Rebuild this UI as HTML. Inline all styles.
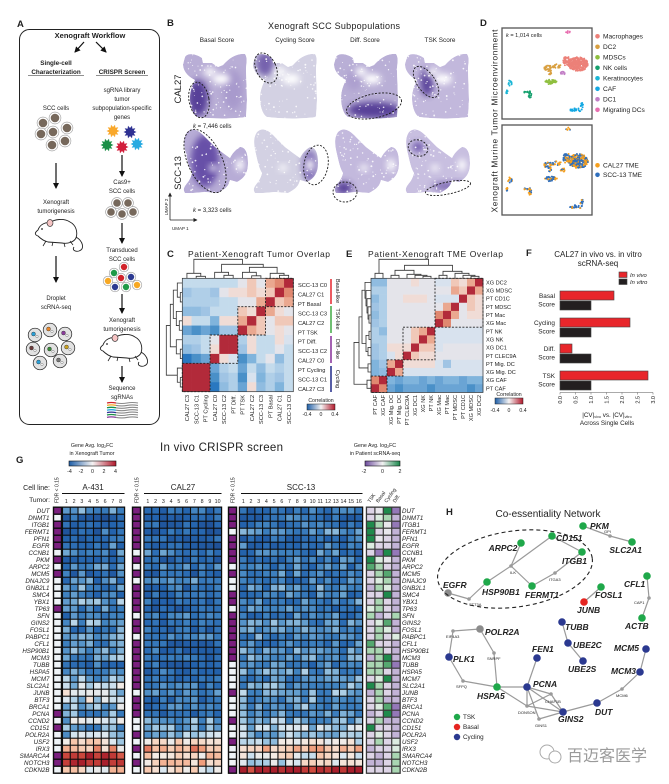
<!DOCTYPE html>
<html><head><meta charset="utf-8">
<style>
html,body{margin:0;padding:0;background:#fff;width:669px;height:784px;overflow:hidden}
svg{display:block}
text{font-family:"Liberation Sans","Noto Sans CJK SC",sans-serif;fill:#222}
.b{font-weight:bold}.i{font-style:italic}.bi{font-weight:bold;font-style:italic}
</style></head><body>
<svg id="s" width="669" height="784" viewBox="0 0 669 784" xmlns="http://www.w3.org/2000/svg">
<defs id="defs">
<linearGradient id="gC" x1="0" x2="1" y1="0" y2="0"><stop offset="0" stop-color="#1f5fa8"/><stop offset="0.5" stop-color="#f5f3f3"/><stop offset="1" stop-color="#b2182b"/></linearGradient>
<linearGradient id="gP" x1="0" x2="1" y1="0" y2="0"><stop offset="0" stop-color="#6e4c9e"/><stop offset="0.5" stop-color="#f2f2f2"/><stop offset="1" stop-color="#18874a"/></linearGradient>
<filter id="bl" x="-60%" y="-60%" width="220%" height="220%"><feGaussianBlur stdDeviation="3.2"/></filter>
<marker id="ah" markerWidth="6" markerHeight="6" refX="5" refY="3" orient="auto" markerUnits="userSpaceOnUse"><path d="M0,0 L6,3 L0,6 Z" fill="#111"/></marker>
<marker id="ah2" markerWidth="4" markerHeight="4" refX="3.5" refY="2" orient="auto" markerUnits="userSpaceOnUse"><path d="M0,0 L4,2 L0,4 Z" fill="#222"/></marker>
</defs>
<rect width="669" height="784" fill="#fff"/>
<g id="shapes"></g>
<g id="fg" fill="none">
<!-- Panel A -->
<rect x="19.5" y="29.5" width="140" height="395" rx="10" stroke="#222" stroke-width="1"/>
<g stroke="#111" stroke-width="1.2">
<line x1="84" y1="42" x2="75" y2="52" marker-end="url(#ah)"/>
<line x1="96" y1="42" x2="106" y2="52" marker-end="url(#ah)"/>
<line x1="56" y1="163" x2="56" y2="188" marker-end="url(#ah)"/>
<line x1="56" y1="256" x2="56" y2="282" marker-end="url(#ah)"/>
<line x1="122" y1="155" x2="122" y2="176" marker-end="url(#ah)"/>
<line x1="122" y1="223" x2="122" y2="243" marker-end="url(#ah)"/>
<line x1="122" y1="294" x2="122" y2="313" marker-end="url(#ah)"/>
<line x1="122" y1="366" x2="122" y2="382" marker-end="url(#ah)"/>
</g>
<line x1="28" y1="75.5" x2="84" y2="75.5" stroke="#222" stroke-width="0.6"/>
<line x1="96" y1="75.5" x2="148" y2="75.5" stroke="#222" stroke-width="0.6"/>
<!-- Panel B dashed ellipses -->
<g stroke="#1a1a1a" stroke-width="0.9" stroke-dasharray="2,1.5">
<ellipse cx="199" cy="100" rx="10" ry="18" transform="rotate(-10 199 100)"/>
<ellipse cx="266" cy="68" rx="10" ry="16" transform="rotate(-25 266 68)"/>
<ellipse cx="374" cy="106" rx="28" ry="12" transform="rotate(-12 374 106)"/>
<ellipse cx="426" cy="82" rx="9" ry="18" transform="rotate(-35 426 82)"/>
<ellipse cx="205" cy="161" rx="17" ry="34" transform="rotate(-25 205 161)"/>
<ellipse cx="316" cy="165" rx="12" ry="20" transform="rotate(10 316 165)"/>
<ellipse cx="345" cy="192" rx="12" ry="10"/>
<ellipse cx="418" cy="148" rx="10" ry="8" transform="rotate(20 418 148)"/>
<ellipse cx="448" cy="188" rx="23" ry="6" transform="rotate(-12 448 188)"/>
</g>
<g stroke="#222" stroke-width="0.8">
<line x1="170" y1="220" x2="170" y2="193" marker-end="url(#ah2)"/>
<line x1="170" y1="220" x2="197" y2="220" marker-end="url(#ah2)"/>
</g>
<!-- Panel D boxes -->
<rect x="502" y="28" width="90" height="91" stroke="#555" stroke-width="1.3"/>
<rect x="502" y="125" width="90" height="90" stroke="#555" stroke-width="1.3"/>
<!-- Panel C frame -->
<rect x="182.3" y="278.3" width="111" height="113.4" stroke="#333" stroke-width="0.7"/>
<g stroke="#222" stroke-width="0.9" stroke-dasharray="2,1.5">
<rect x="265.55" y="278.3" width="27.75" height="28.35"/>
<rect x="237.8" y="306.65" width="27.75" height="28.35"/>
<rect x="210.05" y="335" width="27.75" height="28.35"/>
<rect x="182.3" y="363.35" width="27.75" height="28.35"/>
</g>
<rect x="307" y="404" width="28" height="6" fill="url(#gC)" stroke="#222" stroke-width="0.5"/>
<g stroke-width="1.6">
<line x1="331" y1="279" x2="331" y2="304" stroke="#e8333a"/>
<line x1="331" y1="306" x2="331" y2="333" stroke="#4caf50"/>
<line x1="331" y1="336" x2="331" y2="363" stroke="#8e3a9e"/>
<line x1="331" y1="366" x2="331" y2="392" stroke="#2d3590"/>
</g>
<!-- Panel E frame -->
<rect x="371" y="278.3" width="112" height="114.1" stroke="#333" stroke-width="0.7"/>
<g stroke="#222" stroke-width="0.9" stroke-dasharray="2,1.5">
<rect x="435" y="278.3" width="48" height="48.9"/>
<rect x="403" y="327.2" width="32" height="32.6"/>
<rect x="387" y="359.8" width="16" height="16.3"/>
<rect x="371" y="376.1" width="16" height="16.3"/>
</g>
<rect x="495" y="398" width="28" height="6" fill="url(#gC)" stroke="#222" stroke-width="0.5"/>
<!-- Panel F -->
<g stroke="#444" stroke-width="0.6">
<rect x="560" y="291" width="54" height="9" fill="#e8262b"/>
<rect x="560" y="301" width="31" height="9" fill="#231f20"/>
<rect x="560" y="318" width="70" height="9" fill="#e8262b"/>
<rect x="560" y="328" width="31" height="9" fill="#231f20"/>
<rect x="560" y="344" width="12" height="9" fill="#e8262b"/>
<rect x="560" y="354" width="31" height="9" fill="#231f20"/>
<rect x="560" y="371" width="88" height="9" fill="#e8262b"/>
<rect x="560" y="381" width="31" height="9" fill="#231f20"/>
<rect x="619" y="272" width="8" height="5.5" fill="#e8262b"/>
<rect x="619" y="279" width="8" height="5.5" fill="#231f20"/>
</g>
<path d="M560,392.5 H653 M560,392.5v2 M575.5,392.5v2 M591,392.5v2 M606.5,392.5v2 M622,392.5v2 M637.5,392.5v2 M653,392.5v2" stroke="#555" stroke-width="0.5"/>
<!-- Panel G colorbars -->
<rect x="69" y="461" width="47" height="5" fill="url(#gC)" stroke="#111" stroke-width="0.6"/>
<rect x="365" y="461" width="35" height="5" fill="url(#gP)" stroke="#111" stroke-width="0.6"/>
<g stroke="#111" stroke-width="0.9">
<line x1="62" y1="493.5" x2="124.5" y2="493.5"/>
<line x1="144" y1="493.5" x2="221.5" y2="493.5"/>
<line x1="241" y1="493.5" x2="362.5" y2="493.5"/>
</g>
<!-- Panel H ellipse -->
<ellipse cx="515" cy="569" rx="78" ry="38" transform="rotate(-8 515 569)" stroke="#222" stroke-width="1.1" stroke-dasharray="4,3"/>
<circle cx="547" cy="752" r="7" stroke="#aaa" stroke-width="1" fill="#fff"/>
<circle cx="555" cy="757" r="6" stroke="#aaa" stroke-width="1" fill="#fff"/>
</g>

<g id="txt">
<!-- panel letters -->
<g class="b" font-size="9.5">
<text x="17" y="27">A</text><text x="167" y="26">B</text><text x="480" y="26">D</text>
<text x="167" y="257">C</text><text x="346" y="257">E</text><text x="526" y="256">F</text>
<text x="16" y="463">G</text><text x="446" y="515">H</text>
</g>
<!-- Panel A text -->
<text x="90" y="38" class="b" font-size="7.5" text-anchor="middle">Xenograft Workflow</text>
<g class="b" font-size="6.3" text-anchor="middle">
<text x="56" y="65">Single-cell</text><text x="56" y="74">Characterization</text><text x="122" y="74">CRISPR Screen</text>
</g>
<g font-size="6" text-anchor="middle">
<text x="122" y="92">sgRNA library</text><text x="122" y="101">tumor</text><text x="122" y="110">subpopulation-specific</text><text x="122" y="119">genes</text>
<text x="56" y="110">SCC cells</text>
<text x="122" y="184">Cas9+</text><text x="122" y="193">SCC cells</text>
<text x="122" y="252">Transduced</text><text x="122" y="261">SCC cells</text>
<text x="122" y="322">Xenograft</text><text x="122" y="331">tumorigenesis</text>
<text x="122" y="390">Sequence</text><text x="122" y="399">sgRNAs</text>
<text x="56" y="204">Xenograft</text><text x="56" y="213">tumorigenesis</text>
<text x="56" y="300">Droplet</text><text x="56" y="309">scRNA-seq</text>
</g>
<!-- Panel B text -->
<text x="334" y="29" font-size="9" text-anchor="middle" textLength="132">Xenograft SCC Subpopulations</text>
<g font-size="6.4" text-anchor="middle">
<text x="217" y="42">Basal Score</text><text x="295" y="42">Cycling Score</text><text x="365" y="42">Diff. Score</text><text x="440" y="42">TSK Score</text>
</g>
<text x="181" y="89" font-size="9.5" text-anchor="middle" transform="rotate(-90 181 89)">CAL27</text>
<text x="181" y="173" font-size="9.5" text-anchor="middle" transform="rotate(-90 181 173)">SCC-13</text>
<text x="193" y="128" font-size="6"><tspan class="i">k</tspan> = 7,446 cells</text>
<text x="193" y="212" font-size="6"><tspan class="i">k</tspan> = 3,323 cells</text>
<text x="172" y="230" font-size="4.5">UMAP 1</text>
<text x="168" y="207" font-size="4.5" text-anchor="middle" transform="rotate(-90 168 207)">UMAP 2</text>
<!-- Panel D text -->
<text x="497.5" y="121" font-size="8.3" text-anchor="middle" textLength="183" transform="rotate(-90 497.5 121)">Xenograft Murine Tumor Microenvironment</text>
<text x="506" y="37" font-size="5.6"><tspan class="i">k</tspan> = 1,014 cells</text>
<g font-size="6.6">
<text x="603" y="38.5">Macrophages</text><text x="603" y="49">DC2</text><text x="603" y="59.5">MDSCs</text><text x="603" y="70">NK cells</text>
<text x="603" y="80.5">Keratinocytes</text><text x="603" y="91">CAF</text><text x="603" y="101.5">DC1</text><text x="603" y="112">Migrating DCs</text>
<text x="603" y="167.5">CAL27 TME</text><text x="603" y="177">SCC-13 TME</text>
</g>
<!-- Panel C text -->
<text x="188" y="257" font-size="8.5" textLength="142">Patient-Xenograft Tumor Overlap</text>
<g font-size="5.7">
<text x="298" y="287">SCC-13 C0</text><text x="298" y="296.5">CAL27 C1</text><text x="298" y="305.9">PT Basal</text>
<text x="298" y="315.4">SCC-13 C3</text><text x="298" y="324.8">CAL27 C2</text><text x="298" y="334.3">PT TSK</text>
<text x="298" y="343.7">PT Diff.</text><text x="298" y="353.2">SCC-13 C2</text><text x="298" y="362.6">CAL27 C0</text>
<text x="298" y="372.1">PT Cycling</text><text x="298" y="381.5">SCC-13 C1</text><text x="298" y="391">CAL27 C3</text>
</g>
<g font-size="5.7" text-anchor="end">
<text x="189" y="395" transform="rotate(-90 189 395)">CAL27 C3</text>
<text x="198.3" y="395" transform="rotate(-90 198.3 395)">SCC-13 C1</text>
<text x="207.5" y="395" transform="rotate(-90 207.5 395)">PT Cycling</text>
<text x="216.8" y="395" transform="rotate(-90 216.8 395)">CAL27 C0</text>
<text x="226" y="395" transform="rotate(-90 226 395)">SCC-13 C2</text>
<text x="235.3" y="395" transform="rotate(-90 235.3 395)">PT Diff.</text>
<text x="244.5" y="395" transform="rotate(-90 244.5 395)">PT TSK</text>
<text x="253.8" y="395" transform="rotate(-90 253.8 395)">CAL27 C2</text>
<text x="263" y="395" transform="rotate(-90 263 395)">SCC-13 C3</text>
<text x="272.3" y="395" transform="rotate(-90 272.3 395)">PT Basal</text>
<text x="281.5" y="395" transform="rotate(-90 281.5 395)">CAL27 C1</text>
<text x="290.8" y="395" transform="rotate(-90 290.8 395)">SCC-13 C0</text>
</g>
<g font-size="5.6" text-anchor="middle">
<text x="336" y="291" transform="rotate(90 336 291)">Basal-like</text>
<text x="336" y="319" transform="rotate(90 336 319)">TSK-like</text>
<text x="336" y="349" transform="rotate(90 336 349)">Diff.-like</text>
<text x="336" y="379" transform="rotate(90 336 379)">Cycling</text>
</g>
<g font-size="5.2" text-anchor="middle">
<text x="321" y="402">Correlation</text><text x="307" y="416">-0.4</text><text x="321" y="416">0</text><text x="335" y="416">0.4</text>
<text x="509" y="396">Correlation</text><text x="495" y="412">-0.4</text><text x="509" y="412">0</text><text x="523" y="412">0.4</text>
</g>
<!-- Panel E text -->
<text x="368" y="257" font-size="8.5" textLength="135">Patient-Xenograft TME Overlap</text>
<g font-size="5.6">
<text x="486" y="284.4">XG DC2</text><text x="486" y="292.5">XG MDSC</text><text x="486" y="300.7">PT CD1C</text>
<text x="486" y="308.9">PT MDSC</text><text x="486" y="317">PT Mac</text><text x="486" y="325.2">XG Mac</text>
<text x="486" y="333.3">PT NK</text><text x="486" y="341.5">XG NK</text><text x="486" y="349.6">XG DC1</text>
<text x="486" y="357.8">PT CLEC9A</text><text x="486" y="365.9">PT Mig. DC</text><text x="486" y="374.1">XG Mig. DC</text>
<text x="486" y="382.2">XG CAF</text><text x="486" y="390.4">PT CAF</text>
</g>
<g font-size="5.6" text-anchor="end">
<text x="377" y="395" transform="rotate(-90 377 395)">PT CAF</text>
<text x="385" y="395" transform="rotate(-90 385 395)">XG CAF</text>
<text x="393" y="395" transform="rotate(-90 393 395)">XG Mig. DC</text>
<text x="401" y="395" transform="rotate(-90 401 395)">PT Mig. DC</text>
<text x="409" y="395" transform="rotate(-90 409 395)">PT CLEC9A</text>
<text x="417" y="395" transform="rotate(-90 417 395)">XG DC1</text>
<text x="425" y="395" transform="rotate(-90 425 395)">XG NK</text>
<text x="433" y="395" transform="rotate(-90 433 395)">PT NK</text>
<text x="441" y="395" transform="rotate(-90 441 395)">XG Mac</text>
<text x="449" y="395" transform="rotate(-90 449 395)">PT Mac</text>
<text x="457" y="395" transform="rotate(-90 457 395)">PT MDSC</text>
<text x="465" y="395" transform="rotate(-90 465 395)">PT CD1C</text>
<text x="473" y="395" transform="rotate(-90 473 395)">XG MDSC</text>
<text x="481" y="395" transform="rotate(-90 481 395)">XG DC2</text>
</g>
<!-- Panel F text -->
<text x="598" y="257" font-size="8" text-anchor="middle">CAL27 in vivo vs. in vitro</text>
<text x="598" y="266" font-size="8" text-anchor="middle">scRNA-seq</text>
<text x="630" y="277" font-size="5.8" class="i">In vivo</text>
<text x="630" y="284" font-size="5.8" class="i">In vitro</text>
<g font-size="6.4" text-anchor="end">
<text x="555" y="298">Basal</text><text x="555" y="306.5">Score</text>
<text x="555" y="325">Cycling</text><text x="555" y="333.5">Score</text>
<text x="555" y="351">Diff.</text><text x="555" y="359.5">Score</text>
<text x="555" y="378">TSK</text><text x="555" y="386.5">Score</text>
</g>
<g font-size="5.5" text-anchor="end">
<text x="562" y="396" transform="rotate(-90 562 396)">0.0</text>
<text x="577.5" y="396" transform="rotate(-90 577.5 396)">0.5</text>
<text x="593" y="396" transform="rotate(-90 593 396)">1.0</text>
<text x="608.5" y="396" transform="rotate(-90 608.5 396)">1.5</text>
<text x="624" y="396" transform="rotate(-90 624 396)">2.0</text>
<text x="639.5" y="396" transform="rotate(-90 639.5 396)">2.5</text>
<text x="655" y="396" transform="rotate(-90 655 396)">3.0</text>
</g>
<text x="607" y="417" font-size="6.3" text-anchor="middle">|CV|<tspan font-size="3.8" dy="1.2">vivo</tspan><tspan dy="-1.2"> vs. |CV|</tspan><tspan font-size="3.8" dy="1.2">vitro</tspan></text>
<text x="607" y="425" font-size="6.3" text-anchor="middle">Across Single Cells</text>
<!-- Panel G text -->
<text x="160" y="451" font-size="11.5" textLength="123">In vivo CRISPR screen</text>
<g font-size="5.3" text-anchor="middle">
<text x="92" y="447">Gene Avg. log<tspan font-size="3.6" dy="1">2</tspan><tspan dy="-1">FC</tspan></text>
<text x="92" y="455">in Xenograft Tumor</text>
<text x="69.5" y="473">-4</text><text x="81" y="473">-2</text><text x="92.5" y="473">0</text><text x="104" y="473">2</text><text x="115.5" y="473">4</text>
<text x="375" y="447">Gene Avg. log<tspan font-size="3.6" dy="1">2</tspan><tspan dy="-1">FC</tspan></text>
<text x="375" y="455">in Patient scRNA-seq</text>
<text x="364" y="473">-2</text><text x="382.5" y="473">0</text><text x="400" y="473">2</text>
</g>
<text x="50" y="490" font-size="7" text-anchor="end">Cell line:</text>
<text x="50" y="502" font-size="6.7" text-anchor="end">Tumor:</text>
<g font-size="5">
<text x="58.5" y="503" transform="rotate(-90 58.5 503)">FDR &lt; 0.15</text>
<text x="138.5" y="503" transform="rotate(-90 138.5 503)">FDR &lt; 0.15</text>
<text x="234.5" y="503" transform="rotate(-90 234.5 503)">FDR &lt; 0.15</text>
</g>
<g font-size="8" text-anchor="middle">
<text x="93" y="490">A-431</text><text x="183" y="490">CAL27</text><text x="301" y="490">SCC-13</text>
</g>
<g font-size="5.3" text-anchor="middle">
<text x="66.4" y="503">1</text><text x="74.1" y="503">2</text><text x="81.9" y="503">3</text><text x="89.6" y="503">4</text><text x="97.4" y="503">5</text><text x="105.1" y="503">6</text><text x="112.9" y="503">7</text><text x="120.6" y="503">8</text>
<text x="147.9" y="503">1</text><text x="155.6" y="503">2</text><text x="163.4" y="503">3</text><text x="171.1" y="503">4</text><text x="178.9" y="503">5</text><text x="186.6" y="503">6</text><text x="194.4" y="503">7</text><text x="202.1" y="503">8</text><text x="209.9" y="503">9</text><text x="217.6" y="503">10</text>
<text x="243.3" y="503">1</text><text x="251" y="503">2</text><text x="258.7" y="503">3</text><text x="266.4" y="503">4</text><text x="274.1" y="503">5</text><text x="281.8" y="503">6</text><text x="289.5" y="503">7</text><text x="297.2" y="503">8</text><text x="304.9" y="503">9</text><text x="312.6" y="503">10</text><text x="320.3" y="503">11</text><text x="328.1" y="503">12</text><text x="335.8" y="503">13</text><text x="343.5" y="503">14</text><text x="351.2" y="503">15</text><text x="358.9" y="503">16</text>
</g>
<g font-size="5" text-anchor="start">
<text x="370" y="503" transform="rotate(-55 370 503)">TSK</text>
<text x="378.4" y="503" transform="rotate(-55 378.4 503)">Basal</text>
<text x="386.8" y="503" transform="rotate(-55 386.8 503)">Cycling</text>
<text x="395.2" y="503" transform="rotate(-55 395.2 503)">Diff.</text>
</g>
<text class="i" font-size="6.2" text-anchor="end"><tspan x="49.5" y="512.9">DUT</tspan><tspan x="49.5" y="519.9">DNMT1</tspan><tspan x="49.5" y="526.9">ITGB1</tspan><tspan x="49.5" y="533.9">FERMT1</tspan><tspan x="49.5" y="540.9">PFN1</tspan><tspan x="49.5" y="547.9">EGFR</tspan><tspan x="49.5" y="554.9">CCNB1</tspan><tspan x="49.5" y="561.9">PKM</tspan><tspan x="49.5" y="568.9">ARPC2</tspan><tspan x="49.5" y="575.9">MCM5</tspan><tspan x="49.5" y="582.9">DNAJC9</tspan><tspan x="49.5" y="589.9">GNB2L1</tspan><tspan x="49.5" y="596.9">SMC4</tspan><tspan x="49.5" y="603.9">YBX1</tspan><tspan x="49.5" y="610.9">TP63</tspan><tspan x="49.5" y="617.9">SFN</tspan><tspan x="49.5" y="624.9">GINS2</tspan><tspan x="49.5" y="631.9">FOSL1</tspan><tspan x="49.5" y="638.9">PABPC1</tspan><tspan x="49.5" y="645.9">CFL1</tspan><tspan x="49.5" y="652.9">HSP90B1</tspan><tspan x="49.5" y="659.9">MCM3</tspan><tspan x="49.5" y="666.9">TUBB</tspan><tspan x="49.5" y="673.9">HSPA5</tspan><tspan x="49.5" y="680.9">MCM7</tspan><tspan x="49.5" y="687.9">SLC2A1</tspan><tspan x="49.5" y="694.9">JUNB</tspan><tspan x="49.5" y="701.9">BTF3</tspan><tspan x="49.5" y="708.9">BRCA1</tspan><tspan x="49.5" y="715.9">PCNA</tspan><tspan x="49.5" y="722.9">CCND2</tspan><tspan x="49.5" y="729.9">CD151</tspan><tspan x="49.5" y="736.9">POLR2A</tspan><tspan x="49.5" y="743.9">USF2</tspan><tspan x="49.5" y="750.9">IRX3</tspan><tspan x="49.5" y="757.9">SMARCA4</tspan><tspan x="49.5" y="764.9">NOTCH3</tspan><tspan x="49.5" y="771.9">CDKN2B</tspan></text>
<text class="i" font-size="6.2"><tspan x="402" y="512.9">DUT</tspan><tspan x="402" y="519.9">DNMT1</tspan><tspan x="402" y="526.9">ITGB1</tspan><tspan x="402" y="533.9">FERMT1</tspan><tspan x="402" y="540.9">PFN1</tspan><tspan x="402" y="547.9">EGFR</tspan><tspan x="402" y="554.9">CCNB1</tspan><tspan x="402" y="561.9">PKM</tspan><tspan x="402" y="568.9">ARPC2</tspan><tspan x="402" y="575.9">MCM5</tspan><tspan x="402" y="582.9">DNAJC9</tspan><tspan x="402" y="589.9">GNB2L1</tspan><tspan x="402" y="596.9">SMC4</tspan><tspan x="402" y="603.9">YBX1</tspan><tspan x="402" y="610.9">TP63</tspan><tspan x="402" y="617.9">SFN</tspan><tspan x="402" y="624.9">GINS2</tspan><tspan x="402" y="631.9">FOSL1</tspan><tspan x="402" y="638.9">PABPC1</tspan><tspan x="402" y="645.9">CFL1</tspan><tspan x="402" y="652.9">HSP90B1</tspan><tspan x="402" y="659.9">MCM3</tspan><tspan x="402" y="666.9">TUBB</tspan><tspan x="402" y="673.9">HSPA5</tspan><tspan x="402" y="680.9">MCM7</tspan><tspan x="402" y="687.9">SLC2A1</tspan><tspan x="402" y="694.9">JUNB</tspan><tspan x="402" y="701.9">BTF3</tspan><tspan x="402" y="708.9">BRCA1</tspan><tspan x="402" y="715.9">PCNA</tspan><tspan x="402" y="722.9">CCND2</tspan><tspan x="402" y="729.9">CD151</tspan><tspan x="402" y="736.9">POLR2A</tspan><tspan x="402" y="743.9">USF2</tspan><tspan x="402" y="750.9">IRX3</tspan><tspan x="402" y="757.9">SMARCA4</tspan><tspan x="402" y="764.9">NOTCH3</tspan><tspan x="402" y="771.9">CDKN2B</tspan></text>
<!-- Panel H text -->
<text x="548" y="517" font-size="10" text-anchor="middle">Co-essentiality Network</text>
<g class="bi" font-size="8.5" fill="#333">
<text x="443" y="588">EGFR</text><text x="482" y="595">HSP90B1</text><text x="525" y="598">FERMT1</text>
<text x="562" y="564">ITGB1</text><text x="503" y="551" text-anchor="middle">ARPC2</text><text x="556" y="541">CD151</text>
<text x="590" y="529">PKM</text><text x="642" y="553" text-anchor="end">SLC2A1</text>
<text x="595" y="598">FOSL1</text><text x="577" y="613">JUNB</text><text x="624" y="587">CFL1</text><text x="625" y="629">ACTB</text>
<text x="565" y="630">TUBB</text><text x="573" y="648">UBE2C</text><text x="568" y="672">UBE2S</text>
<text x="614" y="651">MCM5</text><text x="611" y="674">MCM3</text><text x="595" y="715">DUT</text><text x="558" y="722">GINS2</text>
<text x="533" y="687">PCNA</text><text x="532" y="652">FEN1</text><text x="477" y="699">HSPA5</text><text x="453" y="662">PLK1</text><text x="485" y="635">POLR2A</text>
</g>
<g font-size="4" fill="#333">
<text x="469" y="606">STT3A</text><text x="510" y="574">ILK</text><text x="549" y="581">ITGA3</text><text x="604" y="533">GPI</text>
<text x="634" y="604">CAP1</text><text x="616" y="697">MCM6</text><text x="535" y="727">GINS1</text><text x="518" y="714">DONSON</text>
<text x="545" y="703">CHAF1B</text><text x="456" y="688">SFPQ</text><text x="446" y="638">EIF4A3</text><text x="487" y="660">SNRPF</text>
</g>
<g font-size="6.3">
<text x="463" y="719">TSK</text><text x="463" y="729">Basal</text><text x="463" y="739">Cycling</text>
</g>
<text x="567" y="761" font-size="16" style="font-family:'Noto Sans CJK SC','WenQuanYi Zen Hei',sans-serif;fill:#9a9a9a">百迈客医学</text>
</g>
</svg>
<script>
(function(){
const NS="http://www.w3.org/2000/svg";
const S=document.getElementById('shapes'),D=document.getElementById('defs');
function E(t,a,p){const e=document.createElementNS(NS,t);for(const k in a)e.setAttribute(k,a[k]);(p||S).appendChild(e);return e;}
let sd=9;function R(){sd=(sd*16807)%2147483647;return sd/2147483647;}
function hx(c){return [1,3,5].map(i=>parseInt(c.substr(i,2),16));}
function lerp(st,v){if(v<=st[0][0])return st[0][1];for(let i=1;i<st.length;i++){if(v<=st[i][0]){const t=(v-st[i-1][0])/(st[i][0]-st[i-1][0]);const a=hx(st[i-1][1]),b=hx(st[i][1]);return 'rgb('+a.map((x,j)=>Math.round(x+(b[j]-x)*t)).join(',')+')';}}return st[st.length-1][1];}

/* Panel A */
function cell(x,y,r,c){E('circle',{cx:x,cy:y,r:r+1.6,fill:'#fff',stroke:'#9a9a9a','stroke-width':0.6});E('circle',{cx:x,cy:y,r:r,fill:c});}
[[43,123],[55,118],[67,128],[53,132],[41,134],[52,145],[65,141]].forEach(p=>cell(p[0],p[1],4.3,'#76685b'));
[[117,203],[128,203],[111,212],[122,214],[133,212]].forEach(p=>cell(p[0],p[1],3.8,'#76685b'));
[[124,267,'#d1232a'],[114,273,'#1f9a48'],[121,278,'#d1232a'],[131,277,'#2b3990'],[108,281,'#f7a823'],[115,287,'#2b3990'],[126,287,'#1f9a48'],[137,285,'#f7a823']].forEach(p=>cell(p[0],p[1],3.2,p[2]));
function star(x,y,r,c){let pts=[];for(let i=0;i<20;i++){const a=i*Math.PI/10,rr=i%2?r*0.62:r;pts.push((x+rr*Math.cos(a)).toFixed(1)+','+(y+rr*Math.sin(a)).toFixed(1));}E('polygon',{points:pts.join(' '),fill:c});}
star(113,131,6.5,'#f9a82b');star(130,132,6.5,'#2e3192');star(107,145,6.5,'#1b8f47');star(122,147,6.5,'#d21f3c');star(137,144,6.5,'#27aae1');
const dcol=['#2a9fd6','#e8862a','#8a3b9a','#6b3b3b','#3a8a3a','#c8a020','#2a9fd6','#777'];
[[35,335],[50,330],[65,334],[33,349],[51,350],[68,348],[40,363],[60,361]].forEach((p,i)=>{E('circle',{cx:p[0],cy:p[1],r:6.8,fill:'#e2e2e2',stroke:'#222','stroke-width':0.7});E('circle',{cx:p[0]-1.5,cy:p[1]-1,r:2,fill:dcol[i],stroke:'#333','stroke-width':0.4});E('circle',{cx:p[0]+2,cy:p[1]+1.5,r:1.2,fill:'#fff',stroke:'#555','stroke-width':0.4});});
function mouse(ox,oy){const g=E('g',{transform:'translate('+ox+','+oy+')'});E('path',{d:"M4,14 C6,8 12,6 16,7 C20,3 30,2 36,6 C42,9 44,16 42,22 C40,26 34,28 28,27 L14,26 C10,25 6,22 4,20 C1,19 0,17 4,14 Z",fill:'#fff',stroke:'#222','stroke-width':0.9},g);E('ellipse',{cx:16,cy:7,rx:3,ry:3.4,fill:'#f6c4c4',stroke:'#222','stroke-width':0.6},g);E('circle',{cx:8,cy:13,r:0.9,fill:'#222'},g);E('path',{d:"M42,21 C49,25 51,33 45,35 C41,36 38,34 40,31",fill:'none',stroke:'#222','stroke-width':0.9},g);E('path',{d:"M12,25 L9,30 M19,26 L18,30 M30,27 L31,31 M36,25 L39,29",fill:'none',stroke:'#222','stroke-width':0.8},g);}
mouse(34,216);mouse(99,331);
['#d1232a','#f7a823','#1b8f47','#27aae1','#2e3192','#1b8f47','#8a3b9a'].forEach((c,i)=>{const y=403+i*2.4;E('path',{d:'M107,'+y+' q4,-1 9,0',stroke:c,'stroke-width':1.3,fill:'none'});E('path',{d:'M116,'+y+' q6,1 11,0 t11,0',stroke:'#8a8a8a','stroke-width':1.1,fill:'none'});});

/* Panel B */
const SH={cal:"M2,7 C4,3 12,3 19,8 L20,13 L29,13 L35,17 L40,15 C46,8 54,3 62,4 C65,8 63,14 63,20 L64,50 L63,67 C50,69 30,69 14,67 C9,64 7,55 7,48 C7,40 10,34 12,30 C6,27 0,22 0,14 Z",
scc:"M4,4 C8,0 14,0 22,9 L32,19 L40,25 L47,30 C49,26 52,22 57,19 C62,19 65,24 65,35 C65,44 62,50 54,54 L47,52 C46,56 45,60 35,65 L22,64 L10,65 L2,65 C0,62 0,60 5,54 C8,50 9,45 9,45 C6,40 5,35 2,22 C1,16 0,10 4,4 Z"};
const holes={cal:[[38,29,9,5],[27,22,6,4]],scc:[[57,37,4,6],[30,40,4,3]]};
const panels=[
['cal',183,50,'#b9aed6',[[15,48,10,18,'#4e3592',0.9],[50,40,10,20,'#9d8dc6',0.6]]],
['cal',253,50,'#d3d1e3',[[12,14,9,12,'#6c56a8',0.9]]],
['cal',334,50,'#b9afd6',[[40,60,26,8,'#4e3592',0.9],[20,30,8,10,'#a090c8',0.5]]],
['cal',405,50,'#c2b8dc',[[22,32,7,14,'#4e3592',0.85]]],
['scc',183,128,'#b7acd6',[[22,33,14,26,'#5a41a0',0.85]]],
['scc',253,128,'#d3d1e3',[[57,38,8,16,'#7a66b4',0.9]]],
['scc',334,128,'#c3b9dd',[[10,60,8,6,'#4e3592',0.9]]],
['scc',405,128,'#c8bfe0',[[13,19,6,5,'#5a41a0',0.8],[45,58,18,4,'#6a52a8',0.8]]]];
panels.forEach((p,k)=>{const cp=E('clipPath',{id:'cp'+k},D);E('path',{d:SH[p[0]]},cp);const g=E('g',{transform:'translate('+p[1]+','+p[2]+')'});const gi=E('g',{'clip-path':'url(#cp'+k+')'},g);E('path',{d:SH[p[0]],fill:p[3]},gi);p[4].forEach(q=>E('ellipse',{cx:q[0],cy:q[1],rx:q[2],ry:q[3],fill:q[4],opacity:q[5],filter:'url(#bl)'},gi));holes[p[0]].forEach(h=>E('ellipse',{cx:h[0],cy:h[1],rx:h[2],ry:h[3],fill:'#fff',filter:'url(#bl)'},gi));for(let i=0;i<110;i++)E('circle',{cx:(R()*66).toFixed(1),cy:(R()*70).toFixed(1),r:(0.35+R()*0.6).toFixed(2),fill:'#fff',opacity:0.85},gi);});

/* Panel D */
const dc=[[578,64,10,7,260,'#ec8078'],[567,61,4,5,40,'#ec8078'],[549,68,6,2.5,30,'#d9a041'],[557,66,4,2,15,'#d9a041'],[550,72,2,3,10,'#d9a041'],[563,73,2.5,1.5,10,'#c27fc6'],[551,82,6,2.5,45,'#8fbf3f'],[530,95,1.5,4,15,'#16a06e'],[526,92,2,1,6,'#16a06e'],[510,83,2,3,12,'#1ab6d6'],[507,92,1,2,6,'#1ab6d6'],[576,110,6,1.8,25,'#14a8e2'],[582,105,1.5,3,10,'#14a8e2'],[568,32,2,1,6,'#e86fb0']];
dc.forEach(c=>{for(let i=0;i<c[4];i++){const a=R()*6.283,r=Math.sqrt(R());const x=c[0]+r*c[2]*Math.cos(a),y=c[1]+r*c[3]*Math.sin(a);E('circle',{cx:x.toFixed(1),cy:y.toFixed(1),r:0.95,fill:c[5]});E('circle',{cx:(x+(R()-0.5)).toFixed(1),cy:(y+97+(R()-0.5)).toFixed(1),r:0.95,fill:R()<0.5?'#f59f1e':'#2f6fbd'});}});
['#ec8078','#d9a041','#8fbf3f','#16a06e','#1ab6d6','#14a8e2','#c27fc6','#e86fb0'].forEach((c,i)=>E('circle',{cx:597.5,cy:36.3+i*10.5,r:2.3,fill:c}));
E('circle',{cx:597.5,cy:165.3,r:2.3,fill:'#f59f1e'});E('circle',{cx:597.5,cy:174.8,r:2.3,fill:'#2f6fbd'});

/* Panels C & E heatmaps */
const PAL={a:'#2a78c0',b:'#4a90c8',c:'#6aa4d4',d:'#80b4dc',e:'#90bce0',f:'#a0c4e4',g:'#b0cfe8',h:'#c4dbec',i:'#d8e2ee',j:'#e4e4ea',k:'#f0dcd6',l:'#f0c8b8',m:'#eaa890',n:'#e08870',R:'#b22a3a'};
function hm(x0,y0,cw,rh,rows){rows.forEach((s,r)=>{for(let c=0;c<s.length;c++)E('rect',{x:(x0+c*cw).toFixed(2),y:(y0+r*rh).toFixed(2),width:(cw+0.3).toFixed(2),height:(rh+0.3).toFixed(2),fill:PAL[s[c]]});});}
hm(182.3,278.3,9.25,9.45,["hhhhhhjljmnR","fggfjkklklRn","gggghhjjmRlm","eefhhhlkRmkj","khhdkkmRljll","cbcbffRmljkj","gghjRRgkhhki","efhkRRfkhhjh","abcRkibdhjeh","RRRcghchehgh","RRRbfgbidgfh","RRRaegckegdh"]);
hm(371,278.3,8,8.15,["eejjjkjjiilkmR","ggjjjjjjjjmlRm","egjjkkkjiiiRlk","fgjjjjjjjmRjlk","egjjjjjjnRmjkk","fgjjjjjjRnjjjj","gejjjlmRiiiiii","ggjjjlRmiiiiii","fgkkkRllijjjjj","fgikRlkkjjjjjj","dfmRkkkkifiiii","deRmiiiiiiiiii","nRdcddcdcddcdd","Rncbcccbccccbc"]);
function dendro(tree,pos,orient,base){function rec(n){if(typeof n==='number')return [pos(n),0];const L=rec(n[0]),Q=rec(n[1]),h=n[2];let d;if(orient==='top'){const y=v=>base-v;d='M'+L[0]+','+y(L[1])+'V'+y(h)+'H'+Q[0]+'V'+y(Q[1]);}else{const x=v=>base-v;d='M'+x(L[1])+','+L[0]+'H'+x(h)+'V'+Q[0]+'H'+x(Q[1]);}E('path',{d:d,fill:'none',stroke:'#333','stroke-width':0.8});return [(L[0]+Q[0])/2,h];}rec(tree);}
dendro([[0,[1,2,2],5],[[3,[4,5,3],6],[[6,[7,8,2.5],6],[9,[10,11,3],5],11],14],19],i=>182.3+9.25*(i+0.5),'top',278.3);
dendro([[[[0,[1,2,2],5],[3,[4,5,3],6],9],[6,[7,8,2],6],12],[9,[10,11,2],5],16],i=>278.3+9.45*(i+0.5),'left',182.3);
dendro([[0,1,5],[[[2,3,3],[4,[5,[6,7,2],3],4],8],[[8,9,3],[10,[11,[12,13,2],3],5],7],13],19],i=>371+8*(i+0.5),'top',278.3);
dendro([[[[0,[1,[2,[3,[4,5,2],3],4],5],6],[[6,7,2],[8,9,3],5],9],[10,11,3],12],[12,13,4],17],i=>278.3+8.15*(i+0.5),'left',371);

/* Panel G */
const GS=[[-4,'#1f5096'],[-3,'#2464ae'],[-2,'#3f82c0'],[-1.3,'#6ea6d2'],[-0.7,'#a6cbe4'],[-0.2,'#d9e7f1'],[0.3,'#f4ece6'],[1,'#f8cdb4'],[2,'#ef9a78'],[3,'#cf4a3e'],[4,'#a81f2c']];
const Y0=507.2,RH=7.0,NR=38;
const A431=[-2,-3,-3,-2.8,-2.5,-2.5,-2.3,-2.3,-2,-2.5,-2,-1.8,-2.5,-1.5,-2,-2.5,-1.5,-2,-1.5,-2,-1.5,-1.5,-2.5,-1.5,-1,-0.5,-0.5,-0.3,-1,-1.5,-0.8,-1.5,-0.8,0.3,1.2,3.5,3.5,0.8];
const CAL=[-2.8,-3,-3,-3,-3,-3,-2,-2.8,-2.2,-3,-2,-2.6,-2.8,-2.6,-2.8,-2.2,-2.8,-2.6,-2.2,-2.8,-2.6,-2.6,-2.8,-2.6,-2.6,-2.4,-2,-2.5,-2.4,-2.6,-1.2,-1.6,-1,0.6,1.8,0.6,1.2,0.4];
const SCC=[-2.6,-2.6,-2.4,-2,-2.6,-2.4,-2.2,-2.4,-2.2,-2.2,-2.2,-1.9,-2.2,-2,-2.2,-2.2,-1.8,-2,-1.8,-2,-1.8,-1.8,-2.2,-1.6,-1.8,-1.6,-1.4,-1.6,-1.6,-1.8,-1.2,-0.8,-1.2,-0.4,1.2,0.3,0,3.8];
function blk(x0,nc,cw,base,amp){E('rect',{x:x0-0.7,y:Y0-0.7,width:nc*cw+1.4,height:NR*RH+1.4,fill:'#0d0d0d'});for(let r=0;r<NR;r++)for(let c=0;c<nc;c++){const v=base[r]+(R()*2-1)*amp;E('rect',{x:(x0+c*cw+0.55).toFixed(2),y:(Y0+r*RH+0.55).toFixed(2),width:(cw-1.1).toFixed(2),height:(RH-1.1).toFixed(2),fill:lerp(GS,v)});}}
blk(62.5,8,7.75,A431,1.1);blk(144,10,7.75,CAL,0.9);blk(239.5,16,7.69,SCC,1.0);
function fdr(x0,s){E('rect',{x:x0-0.7,y:Y0-0.7,width:8+1.4,height:NR*RH+1.4,fill:'#0d0d0d'});for(let r=0;r<NR;r++)E('rect',{x:x0+0.7,y:(Y0+r*RH+0.7).toFixed(2),width:6.6,height:RH-1.4,fill:s[r]==='1'?'#7a1f7e':'#eef3f7'});}
fdr(53.5,"10111101010000100000000000000101000110");
fdr(132.5,"11111101010111101101111111011100101010");
fdr(228.5,"11101111010011011111110000100010010001");
const PC={G:'#1f8a4c',g:'#55a870',h:'#a9d6b2',l:'#dcece0',n:'#e8e6ec',p:'#ddd4e6',q:'#c2b3d6',P:'#9478b8'};
const PD=["pnGP","plhq","GhnP","Gpnq","Gnpq","lppq","pPGP","Glnq","ghpq","phgq","plhq","qhlq","ppGq","phpq","lhpq","hqph","plgq","phlq","phpl","gppq","hhpq","qhGq","hhgP","hhpq","plGq","Ghpq","qhpq","phqq","plgP","qpGP","phqq","Gppq","plpq","phpl","qppl","pqph","qqph","ppph"];
E('rect',{x:365.8,y:Y0-0.7,width:4*8.4+1.4,height:NR*RH+1.4,fill:'#3a3a3a'});
PD.forEach((s,r)=>{for(let c=0;c<4;c++)E('rect',{x:(366.5+c*8.4+0.6).toFixed(2),y:(Y0+r*RH+0.6).toFixed(2),width:7.2,height:RH-1.2,fill:PC[s[c]]});});

/* Panel H */
const N={EGFR:[448,593,'#8c8c8c'],HSP90B1:[487,582,'#1fa84a'],FERMT1:[532,586,'#1fa84a'],ITGB1:[582,552,'#1fa84a'],ARPC2:[521,543,'#1fa84a'],CD151:[552,536,'#1fa84a'],PKM:[583,526,'#1fa84a'],SLC2A1:[632,542,'#1fa84a'],FOSL1:[601,587,'#1fa84a'],JUNB:[584,602,'#e52521'],CFL1:[647,576,'#1fa84a'],ACTB:[642,618,'#1fa84a'],TUBB:[562,622,'#2b3990'],UBE2C:[568,643,'#2b3990'],UBE2S:[583,661,'#2b3990'],MCM5:[646,649,'#2b3990'],MCM3:[640,672,'#2b3990'],DUT:[597,703,'#2b3990'],GINS2:[563,712,'#2b3990'],PCNA:[527,687,'#2b3990'],FEN1:[537,658,'#2b3990'],HSPA5:[497,687,'#1fa84a'],PLK1:[449,657,'#2b3990'],POLR2A:[480,629,'#8c8c8c'],
STT3A:[469,599],ILK:[511,566],ITGA3:[555,573],GPI:[610,536],CAP1:[649,598],MCM6:[622,689],GINS1:[539,719],DONSON:[527,706],CHAF1B:[551,694],SFPQ:[463,681],EIF4A3:[453,631],SNRPF:[494,653]};
const ED="EGFR-STT3A STT3A-HSP90B1 HSP90B1-ILK ILK-FERMT1 FERMT1-ITGA3 ITGA3-ITGB1 ILK-ARPC2 ILK-CD151 CD151-ITGB1 PKM-GPI GPI-SLC2A1 FOSL1-JUNB CFL1-CAP1 CAP1-ACTB TUBB-UBE2C UBE2C-UBE2S MCM5-MCM3 MCM3-MCM6 MCM6-DUT DUT-GINS2 GINS2-GINS1 GINS2-DONSON GINS2-CHAF1B PCNA-CHAF1B PCNA-DONSON PCNA-GINS1 PCNA-FEN1 PCNA-HSPA5 HSPA5-DONSON HSPA5-SNRPF SNRPF-POLR2A POLR2A-EIF4A3 EIF4A3-PLK1 PLK1-SFPQ SFPQ-HSPA5 CHAF1B-DONSON PCNA-GINS2".split(' ');
ED.forEach(e=>{const [a,b]=e.split('-');E('line',{x1:N[a][0],y1:N[a][1],x2:N[b][0],y2:N[b][1],stroke:'#9a9a9a','stroke-width':1.2});});
for(const k in N){const n=N[k];if(n[2])E('circle',{cx:n[0],cy:n[1],r:3.8,fill:n[2]});else E('circle',{cx:n[0],cy:n[1],r:1.8,fill:'#9a9a9a'});}
E('circle',{cx:457,cy:717,r:3.2,fill:'#1fa84a'});E('circle',{cx:457,cy:727,r:3.2,fill:'#e52521'});E('circle',{cx:457,cy:737,r:3.2,fill:'#2b3990'});
})();
</script>
</body></html>
